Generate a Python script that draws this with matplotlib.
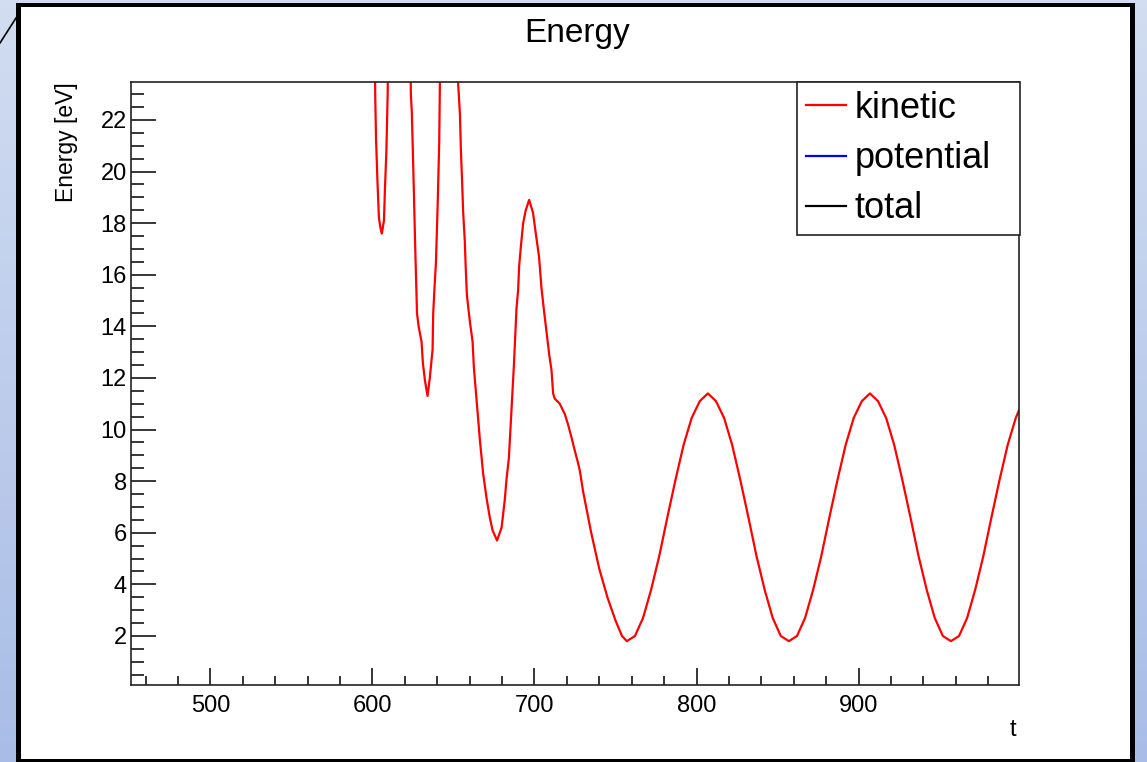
import numpy as np
import matplotlib
matplotlib.use("Agg")
import matplotlib.pyplot as plt
from matplotlib.patches import Rectangle
from matplotlib.lines import Line2D
from matplotlib.ticker import MultipleLocator

plt.rcParams["font.family"] = ["Liberation Sans", "DejaVu Sans"]

# ------------------------------------------------------------
# Data (t, kinetic energy in eV)
# values above the y-range are where the curve leaves the frame
# ------------------------------------------------------------
t_kin = [
    601.3, 601.7, 602.2, 603.1, 604.0, 605.0, 605.8, 607.1, 607.7, 608.6, 609.4, 609.9,
    616.0,
    623.2, 623.7, 624.3, 625.1, 625.7, 626.3, 626.9, 627.5, 628.5, 630.3, 631.1, 632.4,
    634.0, 635.4, 637.1, 637.5, 638.3, 639.2, 640.2, 641.2, 641.6, 642.0,
    647.0,
    652.6, 652.9, 654.0, 654.6, 655.4, 656.0, 657.0, 657.6, 658.3, 660.1, 661.8, 662.6,
    663.8, 665.2, 666.3, 668.3, 670.4, 672.4, 674.1, 676.9, 679.7, 681.7, 682.7, 684.2,
    684.8, 686.0, 687.3, 688.9, 689.9, 690.5, 691.6, 693.0, 694.6, 696.7, 699.1, 700.8,
    702.8, 704.3, 705.7, 707.6, 709.1, 710.5, 711.5, 712.5, 715.6, 718.7, 720.7, 722.8,
    724.8, 726.9, 728.0, 730.0, 735.0, 740.0, 745.0, 750.0, 754.0, 757.0,
    762, 767, 772, 777, 782, 787, 792, 797, 802, 807, 812, 817, 822, 827, 832, 837,
    842, 847, 852, 857,
    862, 867, 872, 877, 882, 887, 892, 897, 902, 907, 912, 917, 922, 927, 932, 937,
    942, 947, 952, 957,
    962, 967, 972, 977, 982, 987, 992, 997, 999,
]
e_kin = [
    27.0, 23.0, 21.3, 19.6, 18.2, 17.8, 17.6, 18.1, 19.3, 20.8, 23.0, 27.0,
    34.0,
    27.0, 23.0, 22.3, 20.4, 18.8, 17.3, 15.9, 14.5, 14.0, 13.4, 12.6, 11.9,
    11.3, 12.0, 13.1, 14.5, 15.5, 16.5, 18.6, 21.1, 23.3, 27.0,
    34.0,
    27.0, 23.4, 22.2, 20.8, 19.5, 18.4, 17.3, 16.2, 15.2, 14.2, 13.4, 12.4,
    11.5, 10.4, 9.6, 8.3, 7.35, 6.6, 6.1, 5.7, 6.2, 7.3, 8.05, 8.9,
    9.6, 11.0, 12.5, 14.7, 15.4, 16.3, 17.1, 18.0, 18.5, 18.9, 18.4, 17.6,
    16.7, 15.5, 14.7, 13.7, 12.9, 12.3, 11.4, 11.2, 11.0, 10.6, 10.2, 9.7,
    9.2, 8.7, 8.4, 7.6, 6.0, 4.6, 3.5, 2.6, 2.0, 1.8,
    2.0, 2.7, 3.8, 5.1, 6.6, 8.05, 9.4, 10.45, 11.1, 11.4, 11.1, 10.45, 9.4, 8.05, 6.6, 5.1,
    3.8, 2.7, 2.0, 1.8,
    2.0, 2.7, 3.8, 5.1, 6.6, 8.05, 9.4, 10.45, 11.1, 11.4, 11.1, 10.45, 9.4, 8.05, 6.6, 5.1,
    3.8, 2.7, 2.0, 1.8,
    2.0, 2.7, 3.8, 5.1, 6.6, 8.05, 9.4, 10.45, 10.75,
]

series_labels = ["kinetic", "potential", "total"]
series_colors = ["#ff0000", "#0000ff", "#000000"]

x_major = [500, 600, 700, 800, 900]
x_range = (451, 999)
y_range = (0.1, 23.47)

W, H = 1147, 762
fig = plt.figure(figsize=(W / 100, H / 100), dpi=100)

# ------------------------------------------------------------
# Slide background: blue gradient, black frame, white panel
# ------------------------------------------------------------
bg = fig.add_axes([0, 0, 1, 1], zorder=-10)
grad = np.linspace(0, 1, 256).reshape(-1, 1)
cmap = matplotlib.colors.LinearSegmentedColormap.from_list("slide", ["#d2ddf1", "#a8bde6"])
bg.imshow(grad, aspect="auto", cmap=cmap, extent=[0, 1, 0, 1], origin="upper")
bg.set_axis_off()
bg.add_patch(Rectangle((16 / W, 0), (1135 - 16) / W, 759 / H, transform=bg.transAxes,
                       facecolor="black", edgecolor="none"))
bg.add_patch(Rectangle((21 / W, 3 / H), (1130 - 21) / W, (755 - 3) / H, transform=bg.transAxes,
                       facecolor="white", edgecolor="none"))
bg.add_line(Line2D([0, 16 / W], [719 / H, 744 / H], transform=bg.transAxes,
                   color="black", lw=1.2))

# ------------------------------------------------------------
# Main plot
# ------------------------------------------------------------
ax = fig.add_axes([131 / W, (H - 685) / H, (1019 - 131) / W, (685 - 82) / H])
ax.plot(t_kin, e_kin, color=series_colors[0], lw=1.6, label=series_labels[0])
ax.plot([], [], color=series_colors[1], lw=1.6, label=series_labels[1])
ax.plot([], [], color=series_colors[2], lw=1.6, label=series_labels[2])

ax.set_xlim(*x_range)
ax.set_ylim(*y_range)
ax.set_xticks(x_major)
ax.xaxis.set_minor_locator(MultipleLocator(20))
ax.yaxis.set_major_locator(MultipleLocator(2))
ax.yaxis.set_minor_locator(MultipleLocator(0.5))

ax.tick_params(which="both", direction="in", top=False, right=False, colors="black")
ax.tick_params(axis="x", which="major", length=12, width=1.1, labelsize=17, pad=7)
ax.tick_params(axis="x", which="minor", length=6.5, width=1.1)
ax.tick_params(axis="y", which="major", length=18, width=1.1, labelsize=17, pad=3)
ax.tick_params(axis="y", which="minor", length=9, width=1.1)
for s in ax.spines.values():
    s.set_linewidth(1.2)
    s.set_color("#222222")

# titles placed ROOT-style (at the end of the axes)
fig.text(577 / W, (H - 42) / H, "Energy", fontsize=24, ha="center", va="baseline")
fig.text(67 / W, (H - 82) / H, "Energy [eV]", fontsize=16.5, rotation=90, ha="center", va="top")
fig.text(1016 / W, (H - 736) / H, "t", fontsize=17, ha="right", va="baseline")

leg = ax.legend(loc="upper left", bbox_to_anchor=(797 / W, (H - 232) / H, 223 / W, 150 / H),
                bbox_transform=fig.transFigure, mode="expand", borderaxespad=0,
                fancybox=False, edgecolor="#222222", framealpha=1, fontsize=26,
                handlelength=1.1, handletextpad=0.25, borderpad=0.25, labelspacing=0.42)
leg.get_frame().set_linewidth(1.2)

fig.savefig("out.png", dpi=100)
print("Saved plot: out.png")
